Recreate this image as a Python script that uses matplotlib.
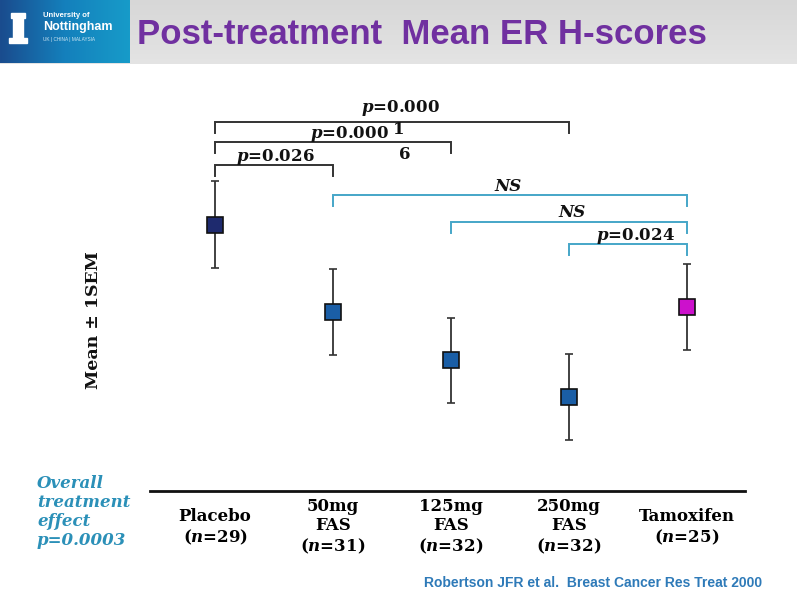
import numpy as np
import matplotlib
matplotlib.use("Agg")
import matplotlib.pyplot as plt
from matplotlib.patches import Rectangle

# groups along the x axis
groups = ["Placebo", "50mg\nFAS", "125mg\nFAS", "250mg\nFAS", "Tamoxifen"]
n_sizes = [29, 31, 32, 32, 25]
# mean ER H-score and 1 SEM (arbitrary units, no scale shown)
means = [266, 179, 131, 94, 184]
sems = [43.5, 43, 42.5, 43, 42.5]
box_colors = ["#1e2a6e", "#1a5ea6", "#1a5ea6", "#1a5ea6", "#cc11cc"]

# pairwise comparisons: (group a, group b, label)
black_pairs = [(0, 3, "$p$=0.000"), (0, 2, "$p$=0.000"), (0, 1, "$p$=0.026")]
blue_pairs = [(1, 4, "NS"), (2, 4, "NS"), (3, 4, "$p$=0.024")]
bracket_y = [369, 349, 326, 296, 269, 247]

plt.rcParams["mathtext.fontset"] = "custom"
plt.rcParams["mathtext.it"] = "DejaVu Serif:italic:bold"
plt.rcParams["mathtext.rm"] = "DejaVu Serif:bold"
serif = "DejaVu Serif"
teal = "#2b90b8"
bracket_blue = "#45a6c8"
W, H = 797, 595

fig = plt.figure(figsize=(W / 100, H / 100), dpi=100)

# header band
hdr = fig.add_axes([0, 1 - 64 / H, 1, 64 / H])
grad = np.linspace(0.84, 0.89, 64).reshape(-1, 1)
hdr.imshow(grad, aspect="auto", cmap="gray", vmin=0, vmax=1, extent=[0, 1, 0, 1])
hdr.axis("off")
logo = fig.add_axes([0, 1 - 63 / H, 130 / W, 63 / H])
lg = np.linspace(0, 1, 130).reshape(1, -1)
logo_cmap = matplotlib.colors.LinearSegmentedColormap.from_list("l", ["#1a4c8e", "#1480bc", "#179bc9"])
logo.imshow(lg, aspect="auto", cmap=logo_cmap, extent=[0, 1, 0, 1])
logo.axis("off")
# crude castle emblem
logo.add_patch(Rectangle((0.1, 0.38), 0.08, 0.36, color="white"))
logo.add_patch(Rectangle((0.07, 0.32), 0.14, 0.07, color="white"))
logo.add_patch(Rectangle((0.085, 0.72), 0.11, 0.08, color="white"))
logo.text(0.33, 0.76, "University of", color="white", fontsize=5.5, fontweight="bold",
          family="Liberation Sans", va="center")
logo.text(0.33, 0.57, "Nottingham", color="white", fontsize=9, fontweight="bold",
          family="Liberation Sans", va="center")
logo.text(0.33, 0.38, "UK | CHINA | MALAYSIA", color="#cfe6f3", fontsize=3.4,
          family="Liberation Sans", va="center")
fig.text(137 / W, 1 - 34 / H, "Post-treatment  Mean ER H-scores", color="#7030a0",
         fontsize=25, fontweight="bold", family="Liberation Sans", va="center", ha="left")

# main plot
ax = fig.add_axes([150 / W, 104 / H, 595 / W, 401 / H])
x = np.arange(len(groups))
for i in x:
    ax.errorbar(x[i], means[i], yerr=sems[i], fmt="s", color="#333333", ecolor="#333333",
                elinewidth=1.3, capsize=3, capthick=1.3, markersize=12,
                markerfacecolor=box_colors[i], markeredgecolor="#111111",
                markeredgewidth=1.2, zorder=3)

ax.set_xlim(-0.551, 4.492)
ax.set_ylim(0, 401)
for s in ["top", "right", "left"]:
    ax.spines[s].set_visible(False)
ax.spines["bottom"].set_linewidth(2.0)
ax.spines["bottom"].set_color("#111111")
ax.set_yticks([])
labels = [f"{g}\n($n$={n})" for g, n in zip(groups, n_sizes)]
ax.set_xticks(x, labels)
ax.tick_params(axis="x", length=0, pad=26)
for lbl in ax.get_xticklabels():
    lbl.set_va("center")
    lbl.set_fontfamily(serif)
    lbl.set_fontweight("bold")
    lbl.set_fontsize(12)
    lbl.set_linespacing(1.2)


def bracket(a, b, y, color, leg=11):
    ax.plot([a, a, b, b], [y - leg, y, y, y - leg], color=color, lw=1.4,
            solid_joinstyle="miter", zorder=2)


for (a, b, _), y in zip(black_pairs + blue_pairs, bracket_y):
    bracket(a, b, y, "#333333" if (a, b, _) in black_pairs else bracket_blue)

tkw = dict(family=serif, fontweight="bold", fontsize=12, ha="center", va="center", color="#111111")
ax.text(1.57, 383, black_pairs[0][2], **tkw)
ax.text(1.14, 357, black_pairs[1][2], **tkw)
ax.text(1.56, 361, "1", **tkw)
ax.text(1.61, 336, "6", **tkw)
ax.text(0.51, 334, black_pairs[2][2], **tkw)
ax.text(2.48, 304, blue_pairs[0][2], style="italic", **tkw)
ax.text(3.03, 278, blue_pairs[1][2], style="italic", **tkw)
ax.text(3.56, 255, blue_pairs[2][2], **tkw)

fig.text(93 / W, 1 - 320 / H, "Mean \u00b1 1SEM", rotation=90, family=serif,
         fontweight="bold", fontsize=12.5, ha="center", va="center", color="#111111")

fig.text(37 / W, 1 - 512 / H, "Overall\ntreatment\neffect\np=0.0003", family=serif,
         style="italic", fontweight="bold", fontsize=12, color=teal, ha="left",
         va="center", linespacing=1.15)

fig.text(762 / W, 1 - 583 / H, "Robertson JFR et al.  Breast Cancer Res Treat 2000",
         family="Liberation Sans", fontweight="bold", fontsize=10, color="#2e7ab8",
         ha="right", va="center")

fig.savefig("out.png", dpi=100)
